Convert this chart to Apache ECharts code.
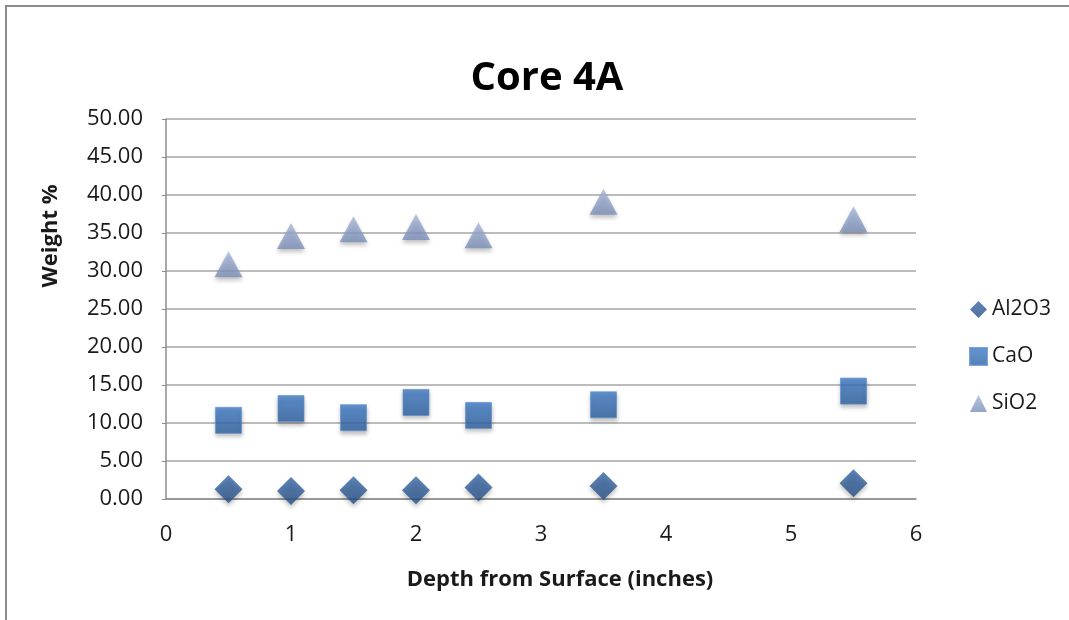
<!DOCTYPE html>
<html>
<head>
<meta charset="utf-8">
<style>
  html, body { margin: 0; padding: 0; background: #fff; }
  #chart { width: 1069px; height: 620px; }
</style>
<script src="https://cdn.jsdelivr.net/npm/echarts@6/dist/echarts.min.js"></script>
</head>
<body>
<div id="chart"></div>
<script>
var depths = [0.5, 1, 1.5, 2, 2.5, 3.5, 5.5];
var al2o3 = [1.27, 1.05, 1.14, 1.15, 1.5, 1.7, 2.06];
var cao = [10.35, 11.9, 10.7, 12.7, 11.0, 12.4, 14.2];
var sio2 = [30.9, 34.6, 35.5, 35.8, 34.7, 39.1, 36.8];
var yTicks = [0, 5, 10, 15, 20, 25, 30, 35, 40, 45, 50];

(function() {
  var font = '"Open Sans", "Noto Sans", sans-serif';
  var ink = '#1a1a1a';
  var grid = '#a6a6a6';

  function pairs(vals) {
    return depths.map(function(d, i) { return [d, vals[i]]; });
  }
  function grad(top, bottom) {
    return new echarts.graphic.LinearGradient(0, 0, 0, 1, [
      { offset: 0, color: top }, { offset: 1, color: bottom }
    ]);
  }
  var shadow = { shadowBlur: 4, shadowOffsetY: 3, shadowColor: 'rgba(0,0,0,0.3)' };

  var chart = echarts.init(document.getElementById('chart'), null, { renderer: 'canvas' });
  chart.setOption({
    animation: false,
    backgroundColor: '#fff',
    graphic: [{
      type: 'rect',
      shape: { x: 6, y: 6, width: 1200, height: 1000 },
      style: { fill: 'none', stroke: '#8c8c8c', lineWidth: 2 },
      silent: true
    }, {
      // y axis title sits above the middle of the axis in the original
      type: 'text',
      x: 51, y: 236,
      rotation: Math.PI / 2,
      style: {
        text: 'Weight %',
        fontFamily: font, fontWeight: 'bold', fontSize: 22, fill: ink,
        textAlign: 'center', textVerticalAlign: 'middle'
      },
      silent: true
    }],
    title: {
      text: 'Core 4A',
      left: 542, top: 54, textAlign: 'center',
      textStyle: { fontFamily: font, fontWeight: 'bold', fontSize: 40, color: '#000' }
    },
    legend: {
      orient: 'vertical',
      left: 964, top: 294,
      itemGap: 26,
      itemWidth: 17, itemHeight: 17,
      textStyle: { fontFamily: font, fontSize: 21, color: ink, padding: [0, 0, 0, 0] },
      data: ['Al2O3', 'CaO', 'SiO2']
    },
    grid: { left: 166, right: 153, top: 119, bottom: 121 },
    xAxis: {
      type: 'value',
      min: 0, max: 6, interval: 1,
      name: 'Depth from Surface (inches)',
      nameLocation: 'middle', nameGap: 70,
      nameTextStyle: { fontFamily: font, fontWeight: 'bold', fontSize: 22, color: ink, padding: [0, 0, 0, 38] },
      axisLine: { show: true, lineStyle: { color: '#8c8c8c', width: 1.5 } },
      axisTick: { show: false },
      splitLine: { show: false },
      axisLabel: { fontFamily: font, fontSize: 22, color: ink, margin: 25 }
    },
    yAxis: {
      type: 'value',
      min: yTicks[0], max: yTicks[yTicks.length - 1], interval: 5,
      axisLine: { show: true, lineStyle: { color: '#8c8c8c', width: 1.5 } },
      axisTick: { show: true, length: 4, inside: false, lineStyle: { color: '#8c8c8c' } },
      splitLine: { lineStyle: { color: grid, width: 1.5 } },
      axisLabel: {
        fontFamily: font, fontSize: 22, color: ink, margin: 23,
        formatter: function(v) { return v.toFixed(2); }
      }
    },
    series: [{
      name: 'Al2O3',
      type: 'scatter',
      symbol: 'diamond',
      symbolSize: [28, 28],
      itemStyle: Object.assign({ color: grad('#3566a6', '#244f85') }, shadow),
      data: pairs(al2o3)
    }, {
      name: 'CaO',
      type: 'scatter',
      symbol: 'rect',
      symbolSize: [26, 26],
      itemStyle: Object.assign({ color: grad('#3e7cc9', '#2c5f9f'), borderColor: '#5b8fd0', borderWidth: 0.8 }, shadow),
      data: pairs(cao)
    }, {
      name: 'SiO2',
      type: 'scatter',
      symbol: 'triangle',
      symbolSize: [28, 26],
      itemStyle: Object.assign({ color: grad('#a5b6d8', '#7a8eb8') }, shadow),
      data: pairs(sio2)
    }]
  });
  window.addEventListener('resize', function() { chart.resize(); });
})();
</script>
</body>
</html>
